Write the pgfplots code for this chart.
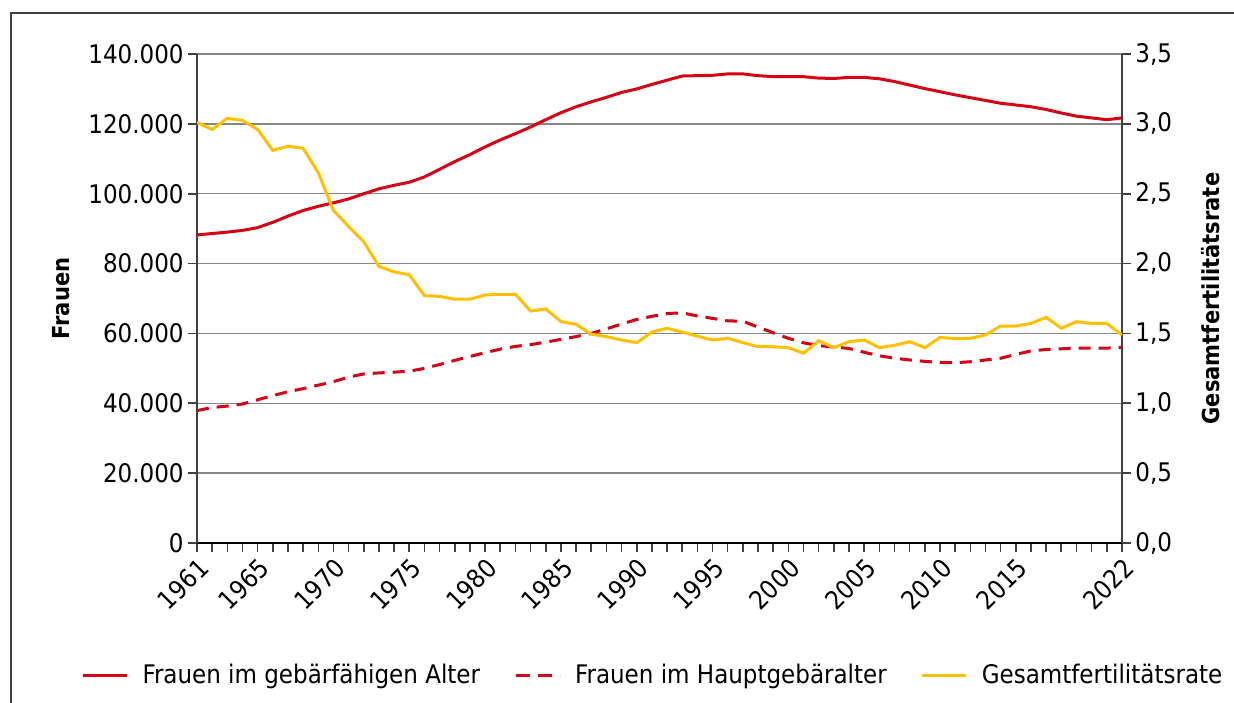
\documentclass[border=0pt]{standalone}
\usepackage{pgfplots}
\pgfplotsset{compat=1.18}
\usepackage{pgfplotstable}
\usepackage{fontspec}
\setmainfont{DejaVu Sans Condensed}
\definecolor{cred}{RGB}{215,0,20}
\definecolor{cyel}{RGB}{255,192,0}
\definecolor{cgrid}{RGB}{134,134,134}
\definecolor{caxis}{RGB}{64,64,64}

\pgfplotstableread{
year a b
1961 88200 37900
1962 88600 38800
1963 89000 39200
1964 89500 39800
1965 90300 41000
1966 91800 42200
1967 93600 43300
1968 95200 44200
1969 96400 45200
1970 97400 46200
1971 98500 47500
1972 100000 48400
1973 101400 48700
1974 102400 48900
1975 103300 49200
1976 104800 50000
1977 107000 51100
1978 109200 52300
1979 111200 53400
1980 113400 54500
1981 115400 55500
1982 117200 56300
1983 119100 56800
1984 121200 57500
1985 123200 58300
1986 124900 59100
1987 126300 60000
1988 127600 61300
1989 129000 62700
1990 130000 64000
1991 131300 64900
1992 132500 65700
1993 133700 65900
1994 133800 65000
1995 133900 64300
1996 134300 63600
1997 134300 63500
1998 133800 61800
1999 133500 60200
2000 133500 58600
2001 133500 57300
2002 133100 56500
2003 133000 56100
2004 133300 55700
2005 133300 54600
2006 132900 53600
2007 132100 52900
2008 131100 52400
2009 130100 52000
2010 129200 51700
2011 128300 51600
2012 127500 51900
2013 126700 52400
2014 125900 52900
2015 125400 54000
2016 124900 55000
2017 124100 55400
2018 123100 55600
2019 122200 55800
2020 121700 55800
2021 121200 55800
2022 121700 56000
}\womentable

\pgfplotstableread{
year tfr
1961 3.01
1962 2.96
1963 3.04
1964 3.025
1965 2.96
1966 2.81
1967 2.84
1968 2.825
1969 2.65
1970 2.38
1971 2.265
1972 2.155
1973 1.98
1974 1.94
1975 1.92
1976 1.77
1977 1.765
1978 1.745
1979 1.745
1980 1.775
1981 1.78
1982 1.78
1983 1.66
1984 1.675
1985 1.585
1986 1.565
1987 1.495
1988 1.477
1989 1.453
1990 1.434
1991 1.51
1992 1.537
1993 1.51
1994 1.48
1995 1.453
1996 1.465
1997 1.434
1998 1.405
1999 1.405
2000 1.398
2001 1.358
2002 1.448
2003 1.398
2004 1.441
2005 1.453
2006 1.398
2007 1.415
2008 1.441
2009 1.398
2010 1.472
2011 1.462
2012 1.465
2013 1.489
2014 1.553
2015 1.553
2016 1.572
2017 1.615
2018 1.537
2019 1.584
2020 1.572
2021 1.572
2022 1.489
}\tfrtable

\begin{document}
\begin{tikzpicture}
\useasboundingbox (-98.5pt,-79.5pt) rectangle (518.5pt,271.5pt);
\draw[caxis, line width=1pt] (-93pt,-100pt) -- (-93pt,265pt) -- (540pt,265pt);
\pgfplotsset{common/.style={
  scale only axis, width=462.5pt, height=244.5pt,
  at={(0,0)}, anchor=south west,
  xmin=1961, xmax=2022,
  tick align=outside, major tick length=4.5pt, minor tick length=4.5pt,
  tick style={caxis, line width=0.8pt},
  /pgf/number format/assume math mode=true,
  ticklabel style={font=\fontsize{12.8}{14}\selectfont},
}}
\begin{axis}[common,
  axis x line*=bottom, axis y line*=left,
  x axis line style={black, line width=1pt},
  y axis line style={caxis, line width=1pt},
  ymin=0, ymax=140000, ytick={0,20000,...,140000},
  scaled y ticks=false,
  ymajorgrids, grid style={cgrid, line width=0.75pt},
  xtick={1961,1965,1970,1975,1980,1985,1990,1995,2000,2005,2010,2015,2022},
  minor xtick={1961,...,2022},
  xticklabel style={rotate=45, anchor=north east, inner sep=1.5pt, /pgf/number format/fixed, /pgf/number format/1000 sep={}},
  yticklabel style={inner sep=2pt, /pgf/number format/fixed, /pgf/number format/1000 sep={.}},
  ylabel={Frauen},
  every axis y label/.style={at={(axis description cs:-0.147,0.5)}, rotate=90, anchor=center, font=\fontsize{11.7}{14}\selectfont\bfseries},
]
\addplot[cred, line width=1.5pt] table[x=year, y=a] {\womentable};
\addplot[cred, line width=1.5pt, dash pattern=on 6pt off 4pt] table[x=year, y=b] {\womentable};
\end{axis}
\begin{axis}[common,
  axis x line=none, axis y line*=right,
  y axis line style={caxis, line width=1pt},
  ymin=0, ymax=3.5, ytick={0,0.5,1,1.5,2,2.5,3,3.5},
  yticklabels={{0,0},{0,5},{1,0},{1,5},{2,0},{2,5},{3,0},{3,5}},
  yticklabel style={inner sep=2pt},
  ylabel={Gesamtfertilitätsrate},
  every axis y label/.style={at={(axis description cs:1.0962,0.5)}, rotate=90, anchor=center, font=\fontsize{11.7}{14}\selectfont\bfseries},
  legend style={at={(axis description cs:0.494,-0.27)}, anchor=center, draw=none, fill=none,
    legend columns=3, font=\fontsize{12.8}{14}\selectfont,
    /tikz/every even column/.append style={column sep=15pt}},
  legend cell align=left,
  legend image code/.code={\draw[#1] (0pt,0pt) -- (22pt,0pt); \path (27pt,0pt);},
]
\addlegendimage{cred, line width=1.5pt}
\addlegendentry{Frauen im gebärfähigen Alter}
\addlegendimage{cred, line width=1.5pt, dash pattern=on 7pt off 4pt}
\addlegendentry{Frauen im Hauptgebäralter}
\addplot[cyel, line width=1.5pt] table[x=year, y=tfr] {\tfrtable};
\addlegendentry{Gesamtfertilitätsrate}
\end{axis}
\end{tikzpicture}
\end{document}
